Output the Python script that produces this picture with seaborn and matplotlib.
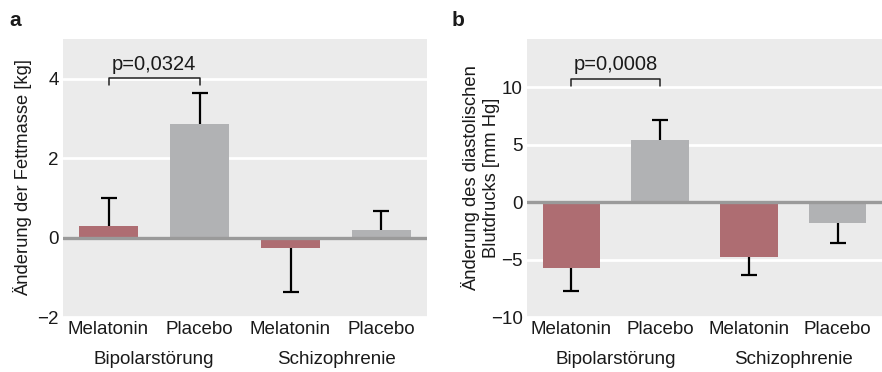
import numpy as np
import pandas as pd
import matplotlib
matplotlib.use("Agg")
import matplotlib.pyplot as plt
import matplotlib.transforms as mtransforms
import seaborn as sns

# ---- data ----
groups = ["Bipolarstörung", "Bipolarstörung", "Schizophrenie", "Schizophrenie"]
treatments = ["Melatonin", "Placebo", "Melatonin", "Placebo"]
fat_mean = [0.28, 2.85, -0.27, 0.20]
fat_sem = [0.71, 0.78, 1.09, 0.46]
bp_mean = [-5.77, 5.39, -4.76, -1.80]
bp_sem = [1.97, 1.74, 1.59, 1.77]
p_fat = "p=0,0324"
p_bp = "p=0,0008"
group_labels = ["Bipolarstörung", "Schizophrenie"]
ylabel_a = "Änderung der Fettmasse [kg]"
ylabel_b = "Änderung des diastolischen\nBlutdrucks [mm Hg]"

colors = {"Melatonin": "#ae6d72", "Placebo": "#b1b2b4"}
bg = "#ebebeb"
txt = "#1a1a1a"

sns.set_theme(style="darkgrid", rc={
    "axes.facecolor": bg,
    "grid.color": "white",
    "grid.linewidth": 2.0,
    "axes.edgecolor": bg,
})
plt.rcParams["font.family"] = ["Liberation Sans", "DejaVu Sans"]
plt.rcParams["text.color"] = txt
plt.rcParams["axes.labelcolor"] = txt
plt.rcParams["xtick.color"] = txt
plt.rcParams["ytick.color"] = txt

fig = plt.figure(figsize=(8.82, 3.72), dpi=100)
ax_a = fig.add_axes([63 / 882, 1 - 317 / 372, 364 / 882, 278 / 372])
ax_b = fig.add_axes([527 / 882, 1 - 317 / 372, 355 / 882, 278 / 372])

keys = [f"{g} {t}" for g, t in zip(groups, treatments)]


def draw(ax, mean, sem, ylim, yticks, ylabel, ptxt, br_y1, br_y0, label_x):
    df = pd.DataFrame({"key": keys, "treat": treatments, "val": mean})
    sns.barplot(data=df, x="key", y="val", hue="treat", palette=colors,
                order=keys, width=0.65, errorbar=None, legend=False,
                saturation=1, ax=ax, zorder=2, linewidth=0, edgecolor="none")
    x = np.arange(len(mean))
    m = np.array(mean)
    s = np.array(sem)
    ends = np.where(m >= 0, m + s, m - s)
    lower = np.where(m >= 0, 0, s)
    upper = np.where(m >= 0, s, 0)
    ax.axhline(0, color="#9a9a9a", lw=2.4, zorder=3)
    ax.errorbar(x, m, yerr=[lower, upper], fmt="none", ecolor="black",
                elinewidth=1.6, capsize=0, zorder=4)
    ax.plot(x, ends, ls="none", marker="_", ms=12, mew=1.6, color="black", zorder=4)

    ax.set_ylim(*ylim)
    ax.set_xlim(-0.5, 3.5)
    ax.set_yticks(yticks)
    ax.set_yticklabels([str(v).replace("-", "\u2212") for v in yticks])
    ax.set_xticks(x)
    ax.set_xticklabels(treatments)
    ax.xaxis.grid(False)
    ax.yaxis.grid(True)
    ax.set_axisbelow(True)
    ax.tick_params(axis="x", direction="in", length=9, width=2, color="white",
                   labelcolor=txt, labelsize=13.5, pad=3)
    ax.tick_params(axis="y", length=0, labelsize=13.5, pad=3)
    for sp in ax.spines.values():
        sp.set_visible(False)
    ax.set_xlabel("")
    ax.set_ylabel(ylabel, fontsize=13.2, linespacing=1.2)
    ax.yaxis.set_label_coords(label_x, 0.5)

    # bracket
    ax.plot([0, 0, 1, 1], [br_y0, br_y1, br_y1, br_y0], color="#222222", lw=1.1, zorder=4)
    ax.annotate(ptxt, xy=(0.5, br_y1), xytext=(0, 3), textcoords="offset points",
                ha="center", va="bottom", fontsize=14.5, color=txt)

    trans = mtransforms.blended_transform_factory(ax.transData, ax.transAxes)
    for i, g in enumerate(group_labels):
        ax.text(2 * i + 0.5, -0.152, g, transform=trans, ha="center", va="center",
                fontsize=13.5, color=txt)


draw(ax_a, fat_mean, fat_sem, (-2, 5), [-2, 0, 2, 4], ylabel_a, p_fat, 4.02, 3.83, -0.085)
draw(ax_b, bp_mean, bp_sem, (-10, 14.2), [-10, -5, 0, 5, 10], ylabel_b, p_bp, 10.75, 10.1, -0.076)

fig.text(15 / 882, 1 - 21 / 372, "a", fontsize=15, fontweight="bold", ha="center", va="center")
fig.text(458 / 882, 1 - 21 / 372, "b", fontsize=15, fontweight="bold", ha="center", va="center")

fig.savefig("out.png", dpi=100)
